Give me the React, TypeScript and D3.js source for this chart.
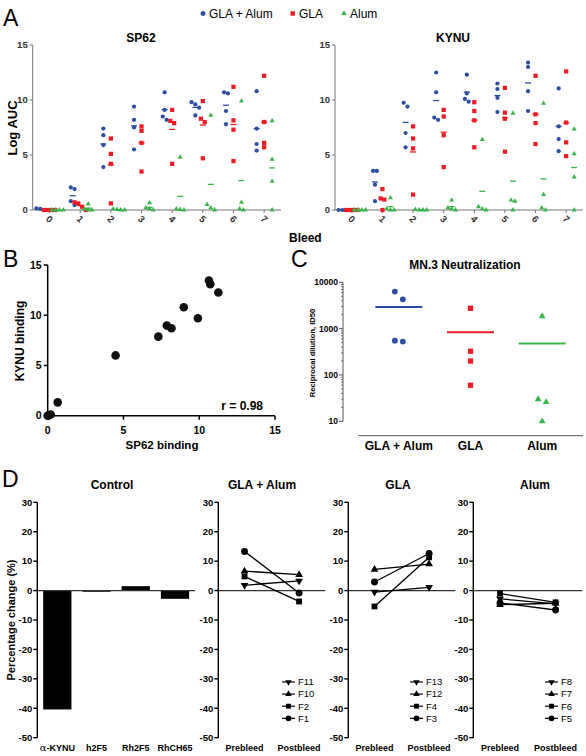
import React from 'react';
import * as d3 from 'd3';

const FONT = "'Liberation Sans', Arial, Helvetica, sans-serif";

// ---------- Panel A data ----------
const BLEEDS = ['0', '1', '2', '3', '4', '5', '6', '7'];
const GROUPS = ['GLA + Alum', 'GLA', 'Alum'];
const COLORS = ['#2b4ea2', '#ed1c24', '#39b54a'];
const SHAPES = ['circle', 'square', 'triangle'];

const SP62_GLA_ALUM = [[0, 0, 0.1, 0.15], [2.05, 1.9, 0.8, 0.45], [7.4, 6.8, 5.9, 3.9], [9.4, 8.2, 7.5, 5.5], [10.7, 9.1, 8.5, 8.2], [9.8, 9.6, 9.3, 8.6], [10.7, 10.6, 9.0, 7.8], [10.8, 7.4, 6.0, 5.4]];
const SP62_GLA = [[0, 0, 0, 0], [0.7, 0.6, 0.3, 0], [6.5, 5.1, 4.2, 0.6], [7.6, 7.2, 6.1, 3.5], [9.1, 8.1, 7.9, 4.2], [9.9, 8.3, 8.0, 4.7], [11.2, 8.15, 7.3, 4.45], [12.2, 8.0, 6.1, 5.7]];
const SP62_ALUM = [[0, 0, 0, 0], [0.55, 0.1, 0, 0], [0.1, 0.05, 0, 0], [0.65, 0.2, 0.1, 0], [4.8, 0.1, 0.05, 0], [8.6, 0.5, 0.2, 0], [9.9, 0.7, 0.1, 0], [8.1, 4.6, 2.6, 0]];
const KYNU_GLA_ALUM = [[0, 0, 0, 0], [3.55, 3.55, 2.3, 0.8], [9.75, 9.4, 7.0, 5.7], [12.5, 10.7, 8.4, 8.2], [12.3, 10.6, 10.1, 9.85], [11.5, 11.0, 10.2, 8.9], [13.4, 13.0, 10.8, 9.0], [11.05, 7.6, 6.45, 5.35]];
const KYNU_GLA = [[0, 0, 0, 0], [1.9, 1.05, 0.95, 0], [7.6, 6.5, 5.6, 1.4], [9.1, 8.5, 6.8, 3.9], [9.8, 9.0, 8.15, 5.7], [11.1, 8.85, 8.3, 5.3], [12.2, 8.7, 7.9, 6.0], [12.6, 7.95, 6.15, 4.9]];
const KYNU_ALUM = [[0, 0, 0, 0], [1.1, 0.1, 0, 0], [0.05, 0, 0, 0], [0.9, 0.2, 0.1, 0], [6.4, 0.3, 0.1, 0], [8.8, 0.9, 0.8, 0], [9.7, 1.4, 0.2, 0], [7.35, 5.1, 3.0, 0]];
const A_TICKS = [0, 5, 10, 15];

// ---------- Panel B data ----------
const B_SP62 = [0, 0.05, 0.2, 0.66, 4.48, 7.3, 7.86, 8.17, 8.98, 9.91, 10.64, 10.73, 11.26];
const B_KYNU = [0, 0.02, 0.12, 1.33, 6.0, 7.87, 8.97, 8.7, 10.8, 9.7, 13.45, 13.09, 12.26];
const B_TICKS = [0, 5, 10, 15];

// ---------- Panel C data ----------
const C_CATEGORIES = ['GLA + Alum', 'GLA', 'Alum'];
const C_GLA_ALUM = [6300, 4300, 525, 550];
const C_GLA = [2750, 325, 200, 60];
const C_ALUM = [1850, 30, 26, 10];
const C_TICKS = [10, 100, 1000, 10000];

// ---------- Panel D data ----------
const D_TICKS = [-50, -40, -30, -20, -10, 0, 10, 20, 30];
const D_CONTROL_LABELS = ['α-KYNU', 'h2F5', 'Rh2F5', 'RhCH65'];
const D_CONTROL_VALUES = [-40.4, -0.4, 1.5, -2.8];
const D_TIMES = ['Prebleed', 'Postbleed'];
const D_SHAPES = ['down', 'triangle', 'square', 'circle'];
const D_GLA_ALUM_IDS = ['F11', 'F10', 'F2', 'F1'];
const D_GLA_ALUM_PRE = [1.8, 6.6, 4.8, 13.3];
const D_GLA_ALUM_POST = [3.3, 5.4, -3.7, -0.8];
const D_GLA_IDS = ['F13', 'F12', 'F4', 'F3'];
const D_GLA_PRE = [-0.5, 7.2, -5.4, 2.9];
const D_GLA_POST = [1.1, 9.0, 11.3, 12.6];
const D_ALUM_IDS = ['F8', 'F7', 'F6', 'F5'];
const D_ALUM_PRE = [-2.8, -4.8, -1.0, -4.2];
const D_ALUM_POST = [-4.5, -4.3, -4.0, -6.6];

// ---------- helpers ----------
const symbolType = (s: string) =>
  s === 'circle' ? d3.symbolCircle : s === 'square' ? d3.symbolSquare : d3.symbolTriangle;

function Marker({ shape, x, y, size, fill }: { shape: string; x: number; y: number; size: number; fill: string }) {
  const d = d3.symbol().type(symbolType(shape)).size(size)() as string;
  const rot = shape === 'down' ? ' rotate(180)' : '';
  return <path d={d} transform={`translate(${x},${y})${rot}`} fill={fill} />;
}

// spread clustered points horizontally
function spread(values: number[], toY: (v: number) => number, thr: number, step: number): number[] {
  const idx = values.map((_, i) => i).sort((a, b) => values[b] - values[a]);
  const offsets = new Array(values.length).fill(0);
  let cluster: number[] = [];
  const flush = () => {
    const n = cluster.length;
    cluster.forEach((id, k) => {
      offsets[id] = (k - (n - 1) / 2) * step;
    });
    cluster = [];
  };
  idx.forEach((id) => {
    if (cluster.length && Math.abs(toY(values[id]) - toY(values[cluster[cluster.length - 1]])) >= thr) flush();
    cluster.push(id);
  });
  flush();
  return offsets;
}

// ---------- Panel A ----------
function ScatterA({ x0, x1, title, titleX, series }: { x0: number; x1: number; title: string; titleX: number; series: number[][][] }) {
  const y = d3.scaleLinear().domain([0, 15]).range([210, 45]);
  const x = d3.scalePoint().domain(BLEEDS).range([x0, x1]).padding(0.55);
  const groupOffset = [-7.5, 0, 8];
  const axisColor = '#777';
  const sizes = [14, 18, 11];
  return (
    <g>
      <text x={titleX} y={42} textAnchor="middle" fontSize={12} fontWeight="bold">{title}</text>
      <line x1={x0} x2={x0} y1={y(15)} y2={y(0)} stroke={axisColor} strokeWidth={1} />
      <line x1={x0} x2={x1} y1={y(0)} y2={y(0)} stroke={axisColor} strokeWidth={1} />
      {A_TICKS.map((t) => (
        <g key={t}>
          <line x1={x0 - 3} x2={x0} y1={y(t)} y2={y(t)} stroke={axisColor} />
          <text x={x0 - 5} y={y(t)} dy="0.35em" textAnchor="end" fontSize={9.5} fontWeight="bold" fill="#333">{t}</text>
        </g>
      ))}
      {BLEEDS.map((b) => (
        <g key={b}>
          <line x1={x(b)!} x2={x(b)!} y1={y(0)} y2={y(0) + 3} stroke={axisColor} />
          <text transform={`translate(${x(b)!},${y(0) + 9}) rotate(45)`} textAnchor="middle" dy="0.35em" fontSize={9.5} fontWeight="bold" fill="#333">{b}</text>
        </g>
      ))}
      {series.map((grp, gi) =>
        grp.map((vals, bi) => {
          const cx = x(BLEEDS[bi])! + groupOffset[gi];
          const offs = spread(vals, y, 4, 3.8);
          const m = d3.mean(vals) as number;
          return (
            <g key={`${gi}-${bi}`}>
              <line x1={cx - 3} x2={cx + 3} y1={y(m)} y2={y(m)} stroke={COLORS[gi]} strokeWidth={1.3} />
              {vals.map((v, i) => (
                <Marker key={i} shape={SHAPES[gi]} x={cx + offs[i]} y={y(v)} size={sizes[gi]} fill={COLORS[gi]} />
              ))}
            </g>
          );
        })
      )}
    </g>
  );
}

// ---------- Panel B ----------
function PanelB() {
  const x = d3.scaleLinear().domain([0, 15]).range([47.7, 275]);
  const y = d3.scaleLinear().domain([0, 15]).range([415.7, 265]);
  return (
    <g>
      <text x={3} y={267} fontSize={23}>B</text>
      <line x1={x(0)} x2={x(0)} y1={y(15)} y2={y(0)} stroke="#000" strokeWidth={1.5} />
      <line x1={x(0)} x2={x(15)} y1={y(0)} y2={y(0)} stroke="#000" strokeWidth={1.5} />
      {B_TICKS.map((t) => (
        <g key={t}>
          <line x1={x(0) - 4} x2={x(0)} y1={y(t)} y2={y(t)} stroke="#000" strokeWidth={1.5} />
          <text x={x(0) - 6} y={y(t)} dy="0.35em" textAnchor="end" fontSize={10.5} fontWeight="bold">{t}</text>
          <line x1={x(t)} x2={x(t)} y1={y(0)} y2={y(0) + 4} stroke="#000" strokeWidth={1.5} />
          <text x={x(t)} y={434} textAnchor="middle" fontSize={10.5} fontWeight="bold">{t}</text>
        </g>
      ))}
      <text transform={`translate(24,341) rotate(-90)`} textAnchor="middle" fontSize={12} fontWeight="bold">KYNU binding</text>
      <text x={162} y={449} textAnchor="middle" fontSize={11.5} fontWeight="bold">SP62 binding</text>
      <text x={263} y={410} textAnchor="end" fontSize={12} fontWeight="bold">r = 0.98</text>
      {B_SP62.map((v, i) => (
        <circle key={i} cx={x(v)} cy={y(B_KYNU[i])} r={4.3} fill="#111" />
      ))}
    </g>
  );
}

// ---------- Panel C ----------
function PanelC() {
  const y = d3.scaleLog().domain([10, 10000]).range([421.3, 282.3]);
  const x = d3.scalePoint().domain(C_CATEGORIES).range([358, 583]).padding(0.57);
  const series = [C_GLA_ALUM, C_GLA, C_ALUM];
  const minor: number[] = [];
  [10, 100, 1000].forEach((d) => {
    for (let k = 2; k <= 9; k++) minor.push(d * k);
  });
  const ax = 343;
  const sizes = [26, 28, 20];
  return (
    <g>
      <text x={291} y={267} fontSize={23}>C</text>
      <text x={465} y={269} textAnchor="middle" fontSize={12} fontWeight="bold">MN.3 Neutralization</text>
      <line x1={ax} x2={ax} y1={y(10000)} y2={y(10)} stroke="#555" strokeWidth={1} />
      {minor.map((m) => (
        <line key={m} x1={ax - 2} x2={ax} y1={y(m)} y2={y(m)} stroke="#555" strokeWidth={0.8} />
      ))}
      {C_TICKS.map((t) => (
        <g key={t}>
          <line x1={ax - 4} x2={ax} y1={y(t)} y2={y(t)} stroke="#555" />
          <text x={ax - 5} y={y(t)} dy="0.35em" textAnchor="end" fontSize={8.5} fontWeight="bold">{t}</text>
        </g>
      ))}
      <text transform={`translate(315,353) rotate(-90)`} textAnchor="middle" fontSize={7.6} fontWeight="bold">Reciprocal dilution, ID50</text>
      <line x1={358} x2={583} y1={435.7} y2={435.7} stroke="#555" strokeWidth={1} />
      {C_CATEGORIES.map((c) => (
        <text key={c} x={x(c)!} y={450} textAnchor="middle" fontSize={12} fontWeight="bold">{c}</text>
      ))}
      {series.map((vals, gi) => {
        const cx = x(C_CATEGORIES[gi])!;
        const m = d3.mean(vals) as number;
        const offs = spread(vals, y, 9, 8);
        return (
          <g key={gi}>
            <line x1={cx - 23.5} x2={cx + 23.5} y1={y(m)} y2={y(m)} stroke={COLORS[gi]} strokeWidth={2} />
            {vals.map((v, i) => (
              <Marker key={i} shape={SHAPES[gi]} x={cx + offs[i]} y={y(v)} size={sizes[gi]} fill={COLORS[gi]} />
            ))}
          </g>
        );
      })}
    </g>
  );
}

// ---------- Panel D ----------
const yD = d3.scaleLinear().domain([-50, 30]).range([737.7, 502.3]);
const dSize = (s: string) => (s === 'circle' ? 38 : s === 'square' ? 34 : 26);

function YAxisD({ x0, x1 }: { x0: number; x1: number }) {
  return (
    <g>
      <line x1={x0} x2={x1} y1={yD(0)} y2={yD(0)} stroke="#333" strokeWidth={1.4} />
      <line x1={x0} x2={x0} y1={yD(30)} y2={yD(-50)} stroke="#000" strokeWidth={1.4} />
      {D_TICKS.map((t) => (
        <g key={t}>
          <line x1={x0 - 4} x2={x0} y1={yD(t)} y2={yD(t)} stroke="#000" strokeWidth={1.4} />
          <text x={x0 - 5} y={yD(t)} dy="0.35em" textAnchor="end" fontSize={9.5} fontWeight="bold">{t}</text>
        </g>
      ))}
    </g>
  );
}

function ControlD() {
  const x0 = 37.3;
  const x1 = 195;
  const x = d3.scaleBand().domain(D_CONTROL_LABELS).range([x0, x1]).paddingInner(0.28).paddingOuter(0.15);
  return (
    <g>
      <text x={112} y={489} textAnchor="middle" fontSize={12} fontWeight="bold">Control</text>
      {D_CONTROL_LABELS.map((l, i) => {
        const v = D_CONTROL_VALUES[i];
        return (
          <rect key={l} x={x(l)!} width={x.bandwidth()} y={yD(Math.max(0, v))} height={Math.abs(yD(v) - yD(0))} fill="#000" />
        );
      })}
      <YAxisD x0={x0} x1={x1} />
      {D_CONTROL_LABELS.map((l) => (
        <text key={l} x={x(l)! + x.bandwidth() / 2} y={751} textAnchor="middle" fontSize={9} fontWeight="bold">
          {l.startsWith('α') ? (
            <>
              <tspan fontFamily="'DejaVu Serif', serif" fontWeight="normal" fontSize={10}>α</tspan>
              {l.slice(1)}
            </>
          ) : (
            l
          )}
        </text>
      ))}
    </g>
  );
}

function LineD({ x0, width, title, titleX, ids, pre, post, legendX }: { x0: number; width: number; title: string; titleX: number; ids: string[]; pre: number[]; post: number[]; legendX: number }) {
  const x = d3.scalePoint().domain(D_TIMES).range([x0, x0 + width]).padding(0.48);
  const line = d3.line<[number, number]>().x((d) => d[0]).y((d) => d[1]);
  return (
    <g>
      <text x={titleX} y={489} textAnchor="middle" fontSize={12} fontWeight="bold">{title}</text>
      <YAxisD x0={x0} x1={x0 + width} />
      {ids.map((id, i) => {
        const pts: [number, number][] = [
          [x('Prebleed')!, yD(pre[i])],
          [x('Postbleed')!, yD(post[i])],
        ];
        return (
          <g key={id}>
            <path d={line(pts) as string} stroke="#000" strokeWidth={1.3} fill="none" />
            {pts.map((p, k) => (
              <Marker key={k} shape={D_SHAPES[i]} x={p[0]} y={p[1]} size={dSize(D_SHAPES[i])} fill="#000" />
            ))}
          </g>
        );
      })}
      {D_TIMES.map((t) => (
        <text key={t} x={x(t)!} y={751} textAnchor="middle" fontSize={9} fontWeight="bold">{t}</text>
      ))}
      {ids.map((id, i) => {
        const ly = 682 + i * 12.1;
        return (
          <g key={`lg-${id}`}>
            <line x1={legendX} x2={legendX + 13} y1={ly} y2={ly} stroke="#000" strokeWidth={1.2} />
            <Marker shape={D_SHAPES[i]} x={legendX + 6.5} y={ly} size={dSize(D_SHAPES[i]) * 0.7} fill="#000" />
            <text x={legendX + 16} y={ly} dy="0.35em" fontSize={9.5}>{id}</text>
          </g>
        );
      })}
    </g>
  );
}

export default function App() {
  return (
    <svg
      width={586}
      height={756}
      viewBox="0 0 586 756"
      style={{ position: 'absolute', left: 0, top: 0, background: '#fff' }}
      fontFamily={FONT}
    >
      <rect width={586} height={756} fill="#fff" />
      {/* Panel A */}
      <text x={3} y={26} fontSize={23}>A</text>
      <g fontSize={12}>
        <Marker shape="circle" x={203} y={13.5} size={18} fill={COLORS[0]} />
        <text x={209} y={17.5}>{GROUPS[0]}</text>
        <Marker shape="square" x={292.7} y={13.5} size={20} fill={COLORS[1]} />
        <text x={299} y={17.5}>{GROUPS[1]}</text>
        <Marker shape="triangle" x={344} y={13.5} size={13} fill={COLORS[2]} />
        <text x={350} y={17.5}>{GROUPS[2]}</text>
      </g>
      <text transform="translate(17,128) rotate(-90)" textAnchor="middle" fontSize={13} fontWeight="bold">Log AUC</text>
      <ScatterA x0={32.7} x1={281} title="SP62" titleX={141} series={[SP62_GLA_ALUM, SP62_GLA, SP62_ALUM]} />
      <ScatterA x0={335} x1={583} title="KYNU" titleX={453} series={[KYNU_GLA_ALUM, KYNU_GLA, KYNU_ALUM]} />
      <text x={289} y={242} fontSize={12} fontWeight="bold">Bleed</text>

      <PanelB />
      <PanelC />

      {/* Panel D */}
      <text x={2} y={487} fontSize={23}>D</text>
      <text transform="translate(15,620) rotate(-90)" textAnchor="middle" fontSize={11} fontWeight="bold">Percentage change (%)</text>
      <ControlD />
      <LineD x0={218.3} width={107} title="GLA + Alum" titleX={262} ids={D_GLA_ALUM_IDS} pre={D_GLA_ALUM_PRE} post={D_GLA_ALUM_POST} legendX={282} />
      <LineD x0={348.3} width={107} title="GLA" titleX={398} ids={D_GLA_IDS} pre={D_GLA_PRE} post={D_GLA_POST} legendX={410} />
      <LineD x0={473.3} width={109} title="Alum" titleX={535} ids={D_ALUM_IDS} pre={D_ALUM_PRE} post={D_ALUM_POST} legendX={545} />
    </svg>
  );
}
